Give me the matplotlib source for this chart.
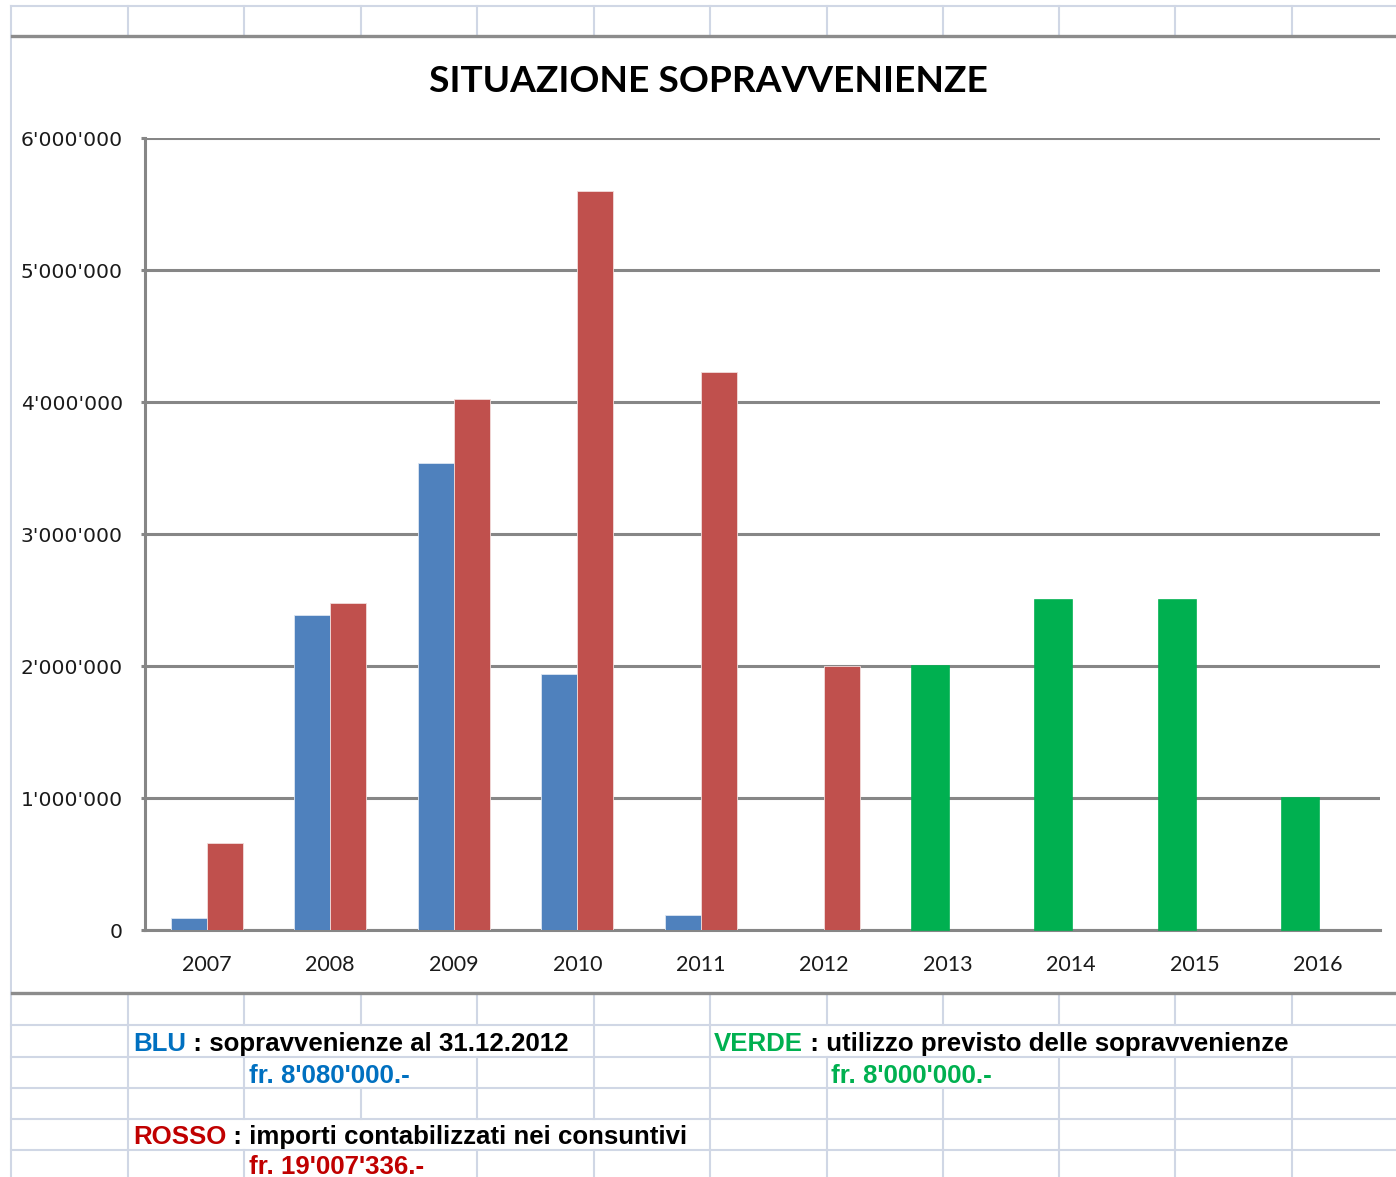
import matplotlib
matplotlib.use("Agg")
import matplotlib.pyplot as plt
from matplotlib.lines import Line2D
from matplotlib.patches import Rectangle
from matplotlib.text import Annotation
import numpy as np

# ---------------- data ----------------
years = ["2007", "2008", "2009", "2010", "2011", "2012", "2013", "2014", "2015", "2016"]
blu = [90000, 2390000, 3540000, 1940000, 115000, 0, 0, 0, 0, 0]
rosso = [660000, 2480000, 4020000, 5600000, 4230000, 2000000, 0, 0, 0, 0]
verde = [0, 0, 0, 0, 0, 0, 2000000, 2500000, 2500000, 1000000]
yticks = [0, 1000000, 2000000, 3000000, 4000000, 5000000, 6000000]
ytick_labels = ["0", "1'000'000", "2'000'000", "3'000'000", "4'000'000", "5'000'000", "6'000'000"]
title = "SITUAZIONE SOPRAVVENIENZE"

C_BLUE = "#4F81BD"
C_RED = "#C0504D"
C_GREEN = "#00B050"
C_GRID = "#868686"
C_CELL = "#D0D7E5"

W, H = 1396, 1177
fig = plt.figure(figsize=(W / 100, H / 100), dpi=100)
fig.patch.set_facecolor("white")


def fx(x):
    return x / W


def fy(y):
    return 1 - y / H


def hline(y, x0, x1, color=C_CELL, lw=1.5, z=0):
    fig.add_artist(Line2D([fx(x0), fx(x1)], [fy(y), fy(y)], color=color, lw=lw, zorder=z))


def vline(x, y0, y1, color=C_CELL, lw=1.5, z=0):
    fig.add_artist(Line2D([fx(x), fx(x)], [fy(y0), fy(y1)], color=color, lw=lw, zorder=z))


# ---------------- spreadsheet grid ----------------
cols = [128, 244, 361, 477, 594, 710, 827, 943, 1059, 1175, 1292]
vline(11, 6, H)
hline(6, 11, W)
for c in cols:
    vline(c, 6, 36)

rows = [995, 1025, 1057, 1088, 1119, 1150, H]
for r in rows[1:-1]:
    hline(r, 11, W)
hidden = {
    1: [244, 361, 477, 827, 943, 1059, 1175, 1292],
    2: [361, 943],
    4: [244, 361, 477, 594],
    5: [361],
}
for i in range(len(rows) - 1):
    for c in cols:
        if c in hidden.get(i, []):
            continue
        vline(c, rows[i], rows[i + 1])

# chart object area
fig.add_artist(Rectangle((fx(12), fy(993)), fx(W) - fx(12), fy(36) - fy(993),
                         transform=fig.transFigure, facecolor="white", edgecolor="none", zorder=1))
hline(36, 12, W, color="#8C8C8C", lw=2.4, z=2)
hline(993, 12, W, color="#8C8C8C", lw=2.4, z=2)

# ---------------- chart ----------------
ax = fig.add_axes([fx(145), fy(930), fx(1380) - fx(145), fy(138) - fy(930)])
ax.set_zorder(3)
ax.patch.set_alpha(0)


def nz(v):
    a = np.asarray(v, dtype=float)
    return np.where(a > 0, a, np.nan)


x = np.arange(len(years))
bw = 0.29
ax.bar(x - bw / 2, nz(blu), width=bw, color=C_BLUE, edgecolor="#DCE6F2", linewidth=0.6, zorder=3)
ax.bar(x + bw / 2, nz(rosso), width=bw, color=C_RED, edgecolor="#F2DCDB", linewidth=0.6, zorder=3)
ax.bar(x - 0.14, nz(verde), width=0.30, color=C_GREEN, edgecolor=C_GREEN, linewidth=1.2,
       zorder=3, clip_on=False)

ax.set_xlim(-0.5, len(years) - 0.5)
ax.set_ylim(0, 6000000)
ax.set_yticks(yticks)
ax.set_yticklabels(ytick_labels, fontsize=14.6, family="DejaVu Sans", color="#1a1a1a")
ax.set_xticks(x)
ax.set_xticklabels(years, fontsize=15.5, family="Lato", color="#1a1a1a")
ax.yaxis.grid(True, color=C_GRID, lw=2.2, zorder=0)
ax.set_axisbelow(True)
for s in ["top", "right"]:
    ax.spines[s].set_visible(False)
ax.spines["left"].set_color(C_GRID)
ax.spines["left"].set_linewidth(2.2)
ax.spines["bottom"].set_color(C_GRID)
ax.spines["bottom"].set_linewidth(2.2)
ax.tick_params(axis="y", length=3, width=2.2, color=C_GRID, pad=13)
ax.tick_params(axis="x", length=0, pad=18)

fig.text(fx(708), fy(82), title, ha="center", va="center", fontsize=26.7,
         fontweight="bold", family="Lato", color="black", zorder=4)

# ---------------- notes below chart ----------------
NOTE = dict(fontsize=18.6, fontweight="bold", family="Liberation Sans", zorder=4)


def two_part(xp, yp, first, c1, second):
    t = fig.text(fx(xp), fy(yp), first, color=c1, ha="left", va="baseline", **NOTE)
    fig.add_artist(Annotation(second, xy=(1.0, 0.0), xycoords=t,
                              ha="left", va="bottom", color="black", **NOTE))
    return t


two_part(133, 1051, "BLU", "#0070C0", " : sopravvenienze al 31.12.2012")
fig.text(fx(249), fy(1083), "fr. 8'080'000.-", color="#0070C0", ha="left", va="baseline", **NOTE)
two_part(714, 1051, "VERDE", C_GREEN, " : utilizzo previsto delle sopravvenienze")
fig.text(fx(831), fy(1083), "fr. 8'000'000.-", color=C_GREEN, ha="left", va="baseline", **NOTE)
two_part(133, 1144, "ROSSO", "#C00000", " : importi contabilizzati nei consuntivi")
fig.text(fx(249), fy(1174), "fr. 19'007'336.-", color="#C00000", ha="left", va="baseline", **NOTE)

fig.savefig("out.png", dpi=100)
